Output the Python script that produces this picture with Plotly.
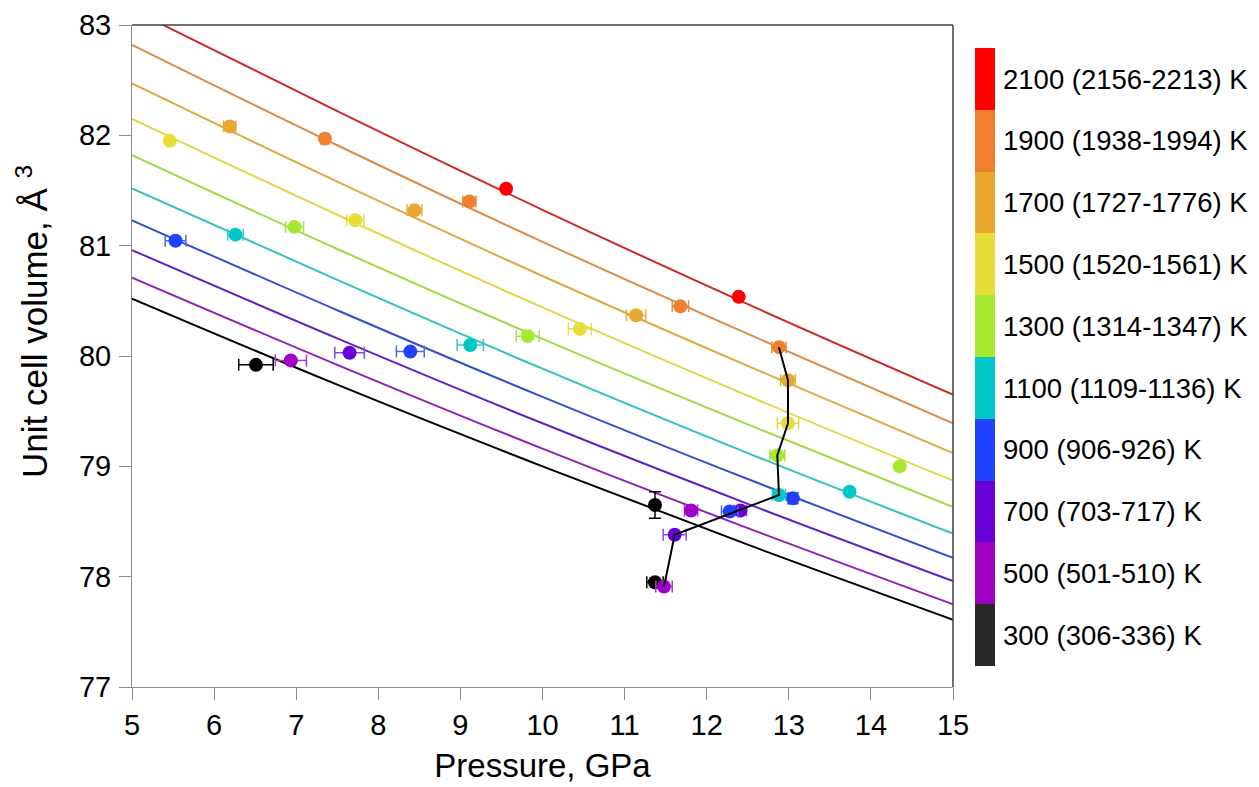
import plotly.graph_objects as go

# ---------------- data ----------------
temps = [300, 500, 700, 900, 1100, 1300, 1500, 1700, 1900, 2100]
temp_labels = ["300 (306-336) K", "500 (501-510) K", "700 (703-717) K", "900 (906-926) K",
               "1100 (1109-1136) K", "1300 (1314-1347) K", "1500 (1520-1561) K",
               "1700 (1727-1776) K", "1900 (1938-1994) K", "2100 (2156-2213) K"]

# fitted isotherms, sampled at these pressures (GPa)
iso_P = [5, 7.5, 10, 12.5, 15]
iso_V = {
    300:  [80.52, 79.74, 79.00, 78.29, 77.61],
    500:  [80.71, 79.92, 79.16, 78.44, 77.75],
    700:  [80.96, 80.16, 79.39, 78.66, 77.96],
    900:  [81.23, 80.415, 79.63, 78.885, 78.17],
    1100: [81.52, 80.69, 79.885, 79.12, 78.39],
    1300: [81.82, 80.97, 80.155, 79.38, 78.63],
    1500: [82.15, 81.28, 80.44, 79.64, 78.87],
    1700: [82.47, 81.58, 80.725, 79.91, 79.12],
    1900: [82.82, 81.91, 81.035, 80.20, 79.39],
    2100: [83.14, 82.22, 81.325, 80.47, 79.65],
}

# measured points: pressure, volume, pressure error, volume error
pts_P = {
    300:  [6.51, 11.37, 11.37],
    500:  [6.935, 11.81, 11.48],
    700:  [7.65, 11.61, 12.41],
    900:  [5.53, 8.39, 13.05, 12.28],
    1100: [6.26, 9.12, 12.88, 13.74],
    1300: [6.98, 9.82, 12.86, 14.35],
    1500: [5.46, 7.72, 10.455, 12.99],
    1700: [6.19, 8.44, 11.14, 12.99],
    1900: [7.35, 9.11, 11.68, 12.88],
    2100: [9.557, 12.39],
}
pts_V = {
    300:  [79.92, 78.65, 77.95],
    500:  [79.96, 78.60, 77.91],
    700:  [80.03, 78.38, 78.60],
    900:  [81.045, 80.04, 78.71, 78.59],
    1100: [81.10, 80.10, 78.74, 78.77],
    1300: [81.17, 80.18, 79.10, 79.00],
    1500: [81.95, 81.23, 80.245, 79.39],
    1700: [82.08, 81.32, 80.37, 79.78],
    1900: [81.97, 81.40, 80.45, 80.08],
    2100: [81.516, 80.536],
}
err_P = {
    300:  [0.21, 0.0, 0.10],
    500:  [0.19, 0.08, 0.10],
    700:  [0.18, 0.14, 0.075],
    900:  [0.126, 0.17, 0.05, 0.10],
    1100: [0.095, 0.16, 0.08, 0.0],
    1300: [0.11, 0.14, 0.09, 0.0],
    1500: [0.0, 0.106, 0.14, 0.13],
    1700: [0.075, 0.09, 0.118, 0.09],
    1900: [0.05, 0.08, 0.10, 0.087],
    2100: [0.0, 0.0],
}
err_V = {
    300:  [0.0, 0.12, 0.0],
    900:  [0.0, 0.0, 0.05, 0.0],
}

# cooling path at one press load
path_P = [12.88, 12.99, 12.99, 12.86, 12.88, 11.61, 11.48]
path_V = [80.08, 79.78, 79.39, 79.10, 78.74, 78.38, 77.91]

# ---------------- styles ----------------
marker_col = {300: "#000000", 500: "#A000C8", 700: "#6A00D8", 900: "#2040FF", 1100: "#00C8C8",
              1300: "#A8E830", 1500: "#E8DC38", 1700: "#E8A830", 1900: "#F08030", 2100: "#FF0000"}
line_col = {300: "#000000", 500: "#9020B8", 700: "#6020C8", 900: "#3050D0", 1100: "#30C0C0",
            1300: "#A0D840", 1500: "#E0D848", 1700: "#E0A840", 1900: "#DC8C48", 2100: "#D02828"}
err_col = {300: "#000000", 500: "#A040C8", 700: "#8050E0", 900: "#5068E0", 1100: "#40C8C8",
           1300: "#A8E048", 1500: "#E0D850", 1700: "#E0B048", 1900: "#E09048", 2100: "#FF0000"}
bar_col = {300: "#282828", 500: "#A000C0", 700: "#6A00D8", 900: "#2040FF", 1100: "#00C8C8",
           1300: "#A8E830", 1500: "#E8DC38", 1700: "#E8A830", 1900: "#F08030", 2100: "#FF0000"}

FONT = "Liberation Sans, Arial, sans-serif"
OFF = 8                      # page body margin
W, H = 1259 - OFF, 787 - OFF
L, T = 132 - OFF, 25 - OFF
PW, PH = 821, 662
R, B = W - L - PW, H - T - PH


def px_x(x):  # page pixel -> paper x
    return (x - OFF - L) / PW


def px_y(y):  # page pixel -> paper y
    return (T + PH - (y - OFF)) / PH


fig = go.Figure()

for t in temps:
    fig.add_trace(go.Scatter(x=iso_P, y=iso_V[t], mode="lines", line=dict(color=line_col[t], width=2, shape="spline"),
                             showlegend=False, hoverinfo="skip"))

for t in temps:
    ev = err_V.get(t)
    fig.add_trace(go.Scatter(
        x=pts_P[t], y=pts_V[t], mode="markers",
        marker=dict(color=marker_col[t], size=14),
        error_x=dict(type="data", array=err_P[t], visible=True, color=err_col[t], thickness=1.5, width=6),
        error_y=dict(type="data", array=ev, visible=ev is not None, color=err_col[t], thickness=1.5, width=6),
        showlegend=False, name=str(t)))

fig.add_trace(go.Scatter(x=path_P, y=path_V, mode="lines", line=dict(color="#000000", width=2),
                         showlegend=False, hoverinfo="skip"))

# discrete colour bar
n = len(temps)
cscale = []
for i, t in enumerate(temps):
    cscale.append([i / n, bar_col[t]])
    cscale.append([(i + 1) / n, bar_col[t]])
fig.add_trace(go.Scatter(
    x=[None] * n, y=[None] * n, mode="markers", showlegend=False, hoverinfo="skip",
    marker=dict(color=temps, colorscale=cscale, cmin=200, cmax=2200, showscale=True,
                colorbar=dict(thickness=20, lenmode="pixels", len=618, x=px_x(975), xanchor="left",
                              y=px_y(357), yanchor="middle", xpad=0, ypad=0, outlinewidth=0,
                              tickmode="array", tickvals=temps, ticktext=temp_labels,
                              ticks="outside", ticklen=3, tickcolor="rgba(0,0,0,0)",
                              tickfont=dict(family=FONT, size=27.5, color="#000000")))))

fig.update_layout(
    width=W, height=H,
    margin=dict(l=L, r=R, t=T, b=B, autoexpand=False),
    paper_bgcolor="white", plot_bgcolor="white",
    font=dict(family=FONT, color="#000000"),
    xaxis=dict(range=[5, 15], dtick=1, ticks="outside", ticklen=12, tickcolor="#8c8c8c",
               showline=True, linecolor="#8c8c8c", linewidth=1, showgrid=False, zeroline=False,
               tickfont=dict(size=29), title=dict(text="Pressure, GPa", font=dict(size=33), standoff=14)),
    yaxis=dict(range=[77, 83], dtick=1, ticks="outside", ticklen=12, tickcolor="#8c8c8c",
               showline=True, linecolor="#8c8c8c", linewidth=1, showgrid=False, zeroline=False,
               tickfont=dict(size=29), ticklabelstandoff=2),
    annotations=[dict(text="Unit cell volume, Å <sup>3</sup>", textangle=-90, showarrow=False,
                      xref="paper", yref="paper", x=px_x(32), y=px_y(322),
                      xanchor="center", yanchor="middle", font=dict(size=35))],
    shapes=[
        dict(type="line", xref="paper", yref="paper", x0=0, x1=1, y0=1, y1=1, line=dict(color="#404040", width=1.5)),
        dict(type="line", xref="paper", yref="paper", x0=1, x1=1, y0=0, y1=1, line=dict(color="#404040", width=1.5)),
    ],
)

fig.write_html("out.html")
